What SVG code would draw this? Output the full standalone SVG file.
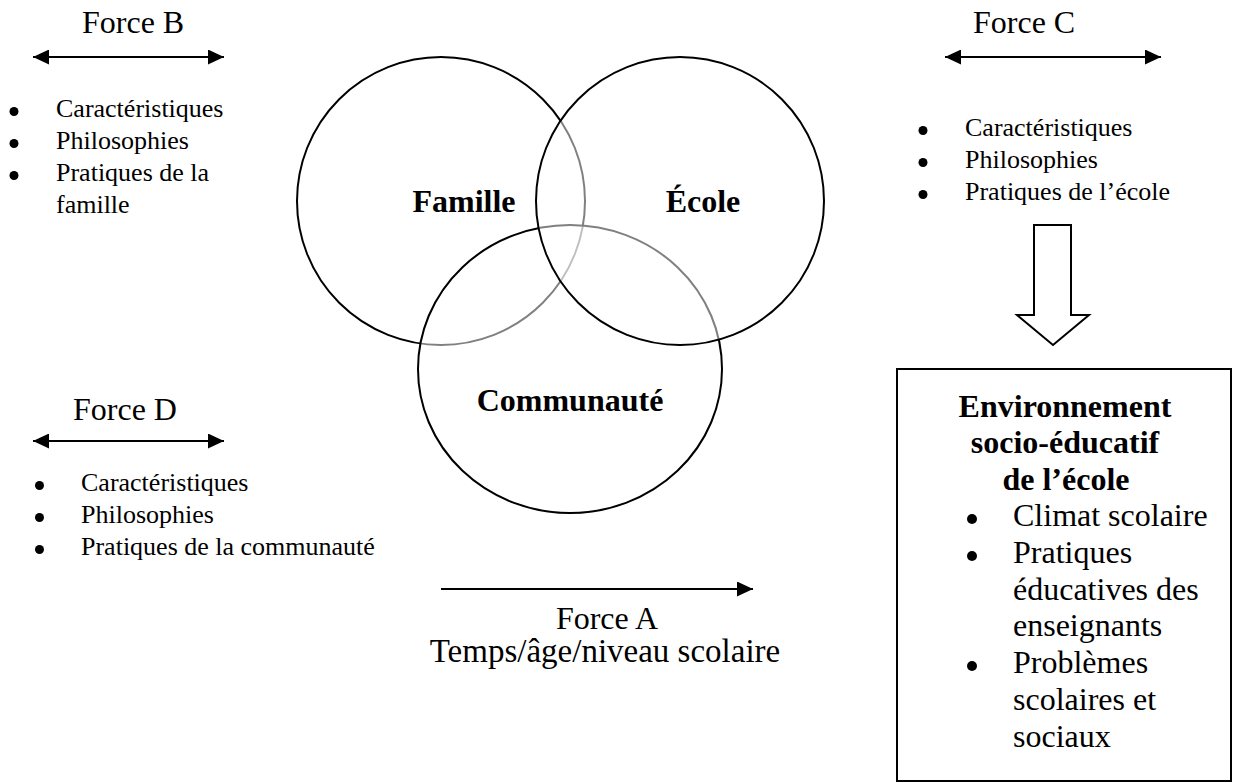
<svg xmlns="http://www.w3.org/2000/svg" width="1234" height="783" viewBox="0 0 1234 783">
  <style>
    text { font-family: "Liberation Serif", "Times New Roman", serif; fill: #000; }
    .big { font-size: 32px; }
    .small { font-size: 26px; }
    .bold { font-size: 32px; font-weight: bold; }
    .mid { text-anchor: middle; }
    .ring { fill: #fff; fill-opacity: 0.5; stroke: #000; stroke-width: 2; }
    .conn { stroke: #000; stroke-width: 2; fill: none; }
    .dot { fill: #000; }
  </style>
  <defs>
    <marker id="head" markerUnits="userSpaceOnUse" markerWidth="16" markerHeight="15" refX="16" refY="7.5" orient="auto-start-reverse">
      <path d="M0,0 L16,7.5 L0,15 z" fill="#000"/>
    </marker>
  </defs>
  <rect width="1234" height="783" fill="#fff"/>

  <g id="connectors">
    <line class="conn" x1="33" y1="57" x2="224" y2="57" marker-start="url(#head)" marker-end="url(#head)"/>
    <line class="conn" x1="945" y1="57" x2="1161" y2="57" marker-start="url(#head)" marker-end="url(#head)"/>
    <line class="conn" x1="33" y1="441" x2="224" y2="441" marker-start="url(#head)" marker-end="url(#head)"/>
    <line class="conn" x1="441" y1="589" x2="753" y2="589" marker-end="url(#head)"/>
    <polygon class="conn" fill="#fff" points="1034,225 1071,225 1071,315 1089,315 1053,345 1017,315 1034,315"/>
  </g>

  <g id="force-b">
    <text class="big" x="82" y="33">Force B</text>
    <circle class="dot" cx="14" cy="111.5" r="4.5"/>
    <text class="small" x="56" y="117">Caractéristiques</text>
    <circle class="dot" cx="14" cy="143.5" r="4.5"/>
    <text class="small" x="56" y="149">Philosophies</text>
    <circle class="dot" cx="14" cy="175.5" r="4.5"/>
    <text class="small" x="56" y="181">Pratiques de la</text>
    <text class="small" x="56" y="213">famille</text>
  </g>

  <g id="force-c">
    <text class="big" x="973" y="33">Force C</text>
    <circle class="dot" cx="923" cy="130.5" r="4.5"/>
    <text class="small" x="965" y="136">Caractéristiques</text>
    <circle class="dot" cx="923" cy="162.5" r="4.5"/>
    <text class="small" x="965" y="168">Philosophies</text>
    <circle class="dot" cx="923" cy="194.5" r="4.5"/>
    <text class="small" x="965" y="200">Pratiques de l’école</text>
  </g>

  <g id="force-d">
    <text class="big" x="73" y="420">Force D</text>
    <circle class="dot" cx="39.5" cy="485.5" r="4.5"/>
    <text class="small" x="81" y="491">Caractéristiques</text>
    <circle class="dot" cx="39.5" cy="517.5" r="4.5"/>
    <text class="small" x="81" y="523">Philosophies</text>
    <circle class="dot" cx="39.5" cy="549.5" r="4.5"/>
    <text class="small" x="81" y="555">Pratiques de la communauté</text>
  </g>

  <g id="force-a">
    <text class="big mid" x="607" y="629">Force A</text>
    <text class="mid" style="font-size:33px" x="605" y="662">Temps/âge/niveau scolaire</text>
  </g>

  <g id="famille">
    <circle class="ring" cx="441" cy="201" r="144"/>
    <text class="bold mid" x="464" y="212">Famille</text>
  </g>

  <g id="communaute">
    <ellipse class="ring" cx="570" cy="369" rx="152" ry="144"/>
    <text class="bold mid" x="570" y="411">Communauté</text>
  </g>

  <g id="ecole">
    <circle class="ring" cx="680" cy="201" r="144"/>
    <text class="bold mid" x="703" y="212">École</text>
  </g>

  <g id="environnement">
    <rect x="897" y="369" width="334" height="412" fill="#fff" stroke="#000" stroke-width="2"/>
    <text class="bold mid" x="1065" y="417">Environnement</text>
    <text class="bold mid" x="1065" y="453">socio-éducatif</text>
    <text class="bold mid" x="1066" y="490">de l’école</text>
    <circle class="dot" cx="972" cy="519" r="5"/>
    <text class="big" x="1013" y="526">Climat scolaire</text>
    <circle class="dot" cx="972" cy="556" r="5"/>
    <text class="big" x="1013" y="563">Pratiques</text>
    <text class="big" x="1013" y="600">éducatives des</text>
    <text class="big" x="1013" y="636">enseignants</text>
    <circle class="dot" cx="972" cy="666" r="5"/>
    <text class="big" x="1013" y="673">Problèmes</text>
    <text class="big" x="1013" y="710">scolaires et</text>
    <text class="big" x="1013" y="747">sociaux</text>
  </g>
</svg>
